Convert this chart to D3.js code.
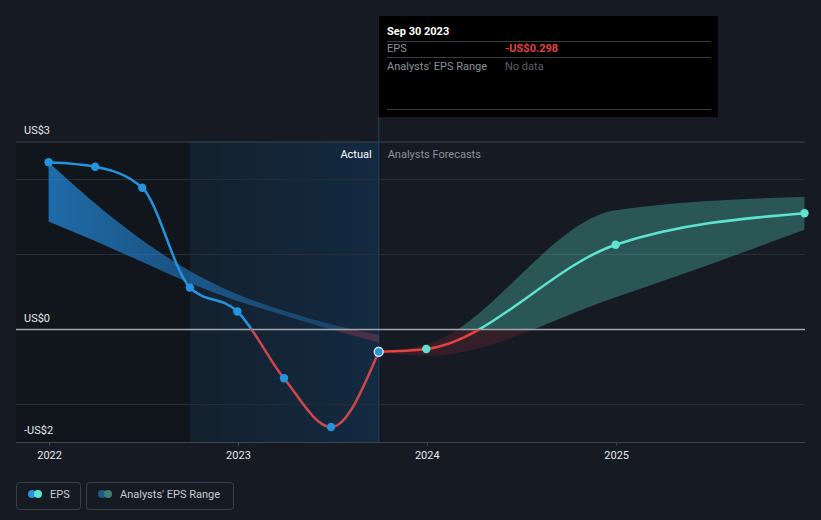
<!DOCTYPE html>
<html>
<head>
<meta charset="utf-8">
<script src="https://cdn.jsdelivr.net/npm/d3@7"></script>
<style>
  html, body { margin: 0; padding: 0; background: #151a23; }
  svg { display: block; font-family: Roboto, "Noto Sans", sans-serif; }
</style>
</head>
<body>
<svg id="chart" width="821" height="520"></svg>
<script>
// ---- data ----
const pastDates = ["2021-12-31","2022-03-31","2022-06-30","2022-09-30","2022-12-31","2023-03-31","2023-06-30","2023-09-30"];
const pastEPS   = [2.23, 2.17, 1.89, 0.56, 0.24, -0.65, -1.30, -0.298];
const pastRangeHigh = [2.23, 1.68, 1.19, 0.78, 0.47, 0.25, 0.07, -0.07];
const pastRangeLow  = [1.44, 1.18, 0.90, 0.62, 0.38, 0.19, 0.00, -0.17];

const fcDates = ["2023-09-30","2023-12-31","2024-12-31","2025-12-31"];
const fcEPS   = [-0.298, -0.26, 1.13, 1.55];
const fcHigh  = [-0.298, -0.20, 1.59, 1.77];
const fcLow   = [-0.298, -0.35, 0.43, 1.33];

const yearTicks = ["2022","2023","2024","2025"];
const yLabels = [{v: 2.5, t: "US$3"}, {v: 0, t: "US$0"}, {v: -1.5, t: "-US$2"}];
const gridValues = [2, 1, -1];

const tooltipDate = "Sep 30 2023";
const tooltipEPS = "-US$0.298";
const tooltipRange = "No data";

// ---- setup ----
const parse = d3.timeParse("%Y-%m-%d");
const svg = d3.select("#chart");
const W = 821, H = 520;
const pL = 16, pR = 805, pT = 142, pB = 442;

const x = d3.scaleTime().domain([new Date(2021, 9, 29), new Date(2026, 0, 1)]).range([pL, pR]);
const y = d3.scaleLinear().domain([-1.5, 2.5]).range([pB, pT]);
const y0 = y(0);

const past = pastDates.map((d, i) => ({date: parse(d), v: pastEPS[i], hi: pastRangeHigh[i], lo: pastRangeLow[i]}));
const fc = fcDates.map((d, i) => ({date: parse(d), v: fcEPS[i], hi: fcHigh[i], lo: fcLow[i]}));

const defs = svg.append("defs");
defs.append("clipPath").attr("id", "above").append("rect")
  .attr("x", 0).attr("y", 0).attr("width", W).attr("height", y0);
defs.append("clipPath").attr("id", "below").append("rect")
  .attr("x", 0).attr("y", y0).attr("width", W).attr("height", H - y0);

const hl = defs.append("linearGradient").attr("id", "hl").attr("x1", 0).attr("x2", 1).attr("y1", 0).attr("y2", 0);
hl.append("stop").attr("offset", 0).attr("stop-color", "#14202d");
hl.append("stop").attr("offset", 1).attr("stop-color", "#132a42");

const bandGrad = defs.append("linearGradient").attr("id", "bandGrad").attr("gradientUnits", "userSpaceOnUse")
  .attr("x1", x(past[0].date)).attr("x2", x(past[past.length - 1].date)).attr("y1", 0).attr("y2", 0);
bandGrad.append("stop").attr("offset", 0).attr("stop-color", "#2280cc").attr("stop-opacity", 0.8);
bandGrad.append("stop").attr("offset", 1).attr("stop-color", "#2280cc").attr("stop-opacity", 0.25);

const splitDate = parse("2022-09-30");
const nowDate = parse("2023-09-30");

// background regions
svg.append("rect").attr("x", pL).attr("y", pT).attr("width", x(splitDate) - pL).attr("height", pB - pT)
  .attr("fill", "#11151c");
svg.append("rect").attr("x", x(splitDate)).attr("y", pT).attr("width", x(nowDate) - x(splitDate)).attr("height", pB - pT)
  .attr("fill", "url(#hl)");

// gridlines
svg.append("g").selectAll("line").data(gridValues).join("line")
  .attr("x1", pL).attr("x2", pR).attr("y1", d => y(d)).attr("y2", d => y(d))
  .attr("stroke", "#262d37").attr("stroke-width", 1);
svg.append("line").attr("x1", pL).attr("x2", pR).attr("y1", y(2.5)).attr("y2", y(2.5))
  .attr("stroke", "#3b424d").attr("stroke-width", 1);

// tooltip vertical line
svg.append("line").attr("x1", x(nowDate)).attr("x2", x(nowDate)).attr("y1", 117).attr("y2", pB)
  .attr("stroke", "#1e3850").attr("stroke-width", 1.5);

// x axis
const xAxis = d3.axisBottom(x)
  .tickValues(yearTicks.map(t => parse(t + "-01-01")))
  .tickFormat(d3.timeFormat("%Y"))
  .tickSize(4).tickPadding(5);
const gx = svg.append("g").attr("transform", `translate(0,${pB})`).call(xAxis);
gx.select(".domain").attr("stroke", "#3e4450").attr("d", `M${pL},0.5H${pR}`);
gx.selectAll(".tick line").attr("stroke", "#3e4450");
gx.selectAll(".tick text").attr("fill", "#e6e8eb").attr("font-size", 11).attr("font-family", "Roboto, sans-serif");

// past analyst band
const band = d3.area().x(d => x(d.date)).y0(d => y(d.lo)).y1(d => y(d.hi)).curve(d3.curveMonotoneX);
svg.append("path").datum(past).attr("d", band).attr("fill", "url(#bandGrad)").attr("clip-path", "url(#above)");
svg.append("path").datum(past).attr("d", band).attr("fill", "#b0404f").attr("opacity", 0.35).attr("clip-path", "url(#below)");

// forecast band
svg.append("path").datum(fc).attr("d", band).attr("fill", "#5ce0cd").attr("opacity", 0.3).attr("clip-path", "url(#above)");
svg.append("path").datum(fc).attr("d", band).attr("fill", "#c23a45").attr("opacity", 0.18).attr("clip-path", "url(#below)");

// zero line
svg.append("line").attr("x1", pL).attr("x2", pR).attr("y1", y0).attr("y2", y0)
  .attr("stroke", "#a3a7ad").attr("stroke-width", 1.5);

// lines
const line = d3.line().x(d => x(d.date)).y(d => y(d.v)).curve(d3.curveMonotoneX);
svg.append("path").datum(past).attr("d", line).attr("fill", "none").attr("stroke", "#2394df").attr("stroke-width", 2.5).attr("clip-path", "url(#above)");
svg.append("path").datum(past).attr("d", line).attr("fill", "none").attr("stroke", "#d0474b").attr("stroke-width", 2.5).attr("clip-path", "url(#below)");
svg.append("path").datum(fc).attr("d", line).attr("fill", "none").attr("stroke", "#5de3cf").attr("stroke-width", 2.5).attr("clip-path", "url(#above)");
svg.append("path").datum(fc).attr("d", line).attr("fill", "none").attr("stroke", "#e5413f").attr("stroke-width", 2.5).attr("clip-path", "url(#below)");

// dots
svg.append("g").selectAll("circle").data(past.slice(0, -1)).join("circle")
  .attr("cx", d => x(d.date)).attr("cy", d => y(d.v)).attr("r", 4.2).attr("fill", "#2394df");
svg.append("g").selectAll("circle").data(fc.slice(1)).join("circle")
  .attr("cx", d => x(d.date)).attr("cy", d => y(d.v)).attr("r", 4.2).attr("fill", "#5de3cf");
const last = past[past.length - 1];
svg.append("circle").attr("cx", x(last.date)).attr("cy", y(last.v)).attr("r", 4.5)
  .attr("fill", "#2394df").attr("stroke", "#ffffff").attr("stroke-width", 1.2);

// y labels
svg.append("g").selectAll("text").data(yLabels).join("text")
  .attr("x", 24).attr("y", d => y(d.v) - 8).text(d => d.t)
  .attr("fill", "#e6e8eb").attr("font-size", 11);

// Actual / Forecast labels
svg.append("text").attr("x", x(nowDate) - 7).attr("y", 158).attr("text-anchor", "end")
  .attr("fill", "#ffffff").attr("font-size", 11).text("Actual");
svg.append("text").attr("x", x(nowDate) + 9).attr("y", 158)
  .attr("fill", "#8d9199").attr("font-size", 11).text("Analysts Forecasts");

// tooltip
const tt = svg.append("g");
tt.append("rect").attr("x", 379).attr("y", 16).attr("width", 339).attr("height", 101).attr("fill", "#000000");
tt.append("text").attr("x", 387).attr("y", 35).attr("fill", "#ffffff").attr("font-size", 11).attr("font-weight", "bold").text(tooltipDate);
[41.5, 57.5, 109.5].forEach(yy => tt.append("line").attr("x1", 387).attr("x2", 711).attr("y1", yy).attr("y2", yy).attr("stroke", "#3a3d42").attr("stroke-width", 1));
tt.append("text").attr("x", 387).attr("y", 52).attr("fill", "#8d9199").attr("font-size", 11).text("EPS");
tt.append("text").attr("x", 505).attr("y", 52).attr("fill", "#e5413f").attr("font-size", 11).attr("font-weight", "bold").text(tooltipEPS);
tt.append("text").attr("x", 387).attr("y", 70).attr("fill", "#8d9199").attr("font-size", 11).text("Analysts' EPS Range");
tt.append("text").attr("x", 505).attr("y", 70).attr("fill", "#5b5f66").attr("font-size", 11).text(tooltipRange);

// legend
const lg = svg.append("g");
lg.append("rect").attr("x", 16.5).attr("y", 482.5).attr("width", 64).attr("height", 27).attr("rx", 3)
  .attr("fill", "none").attr("stroke", "#3a404a");
lg.append("circle").attr("cx", 32).attr("cy", 494).attr("r", 4).attr("fill", "#2394df");
lg.append("circle").attr("cx", 38).attr("cy", 494).attr("r", 4).attr("fill", "#5de3cf");
lg.append("text").attr("x", 50).attr("y", 498).attr("fill", "#c9ccd1").attr("font-size", 11).text("EPS");
lg.append("rect").attr("x", 86.5).attr("y", 482.5).attr("width", 147).attr("height", 27).attr("rx", 3)
  .attr("fill", "none").attr("stroke", "#3a404a");
lg.append("circle").attr("cx", 102).attr("cy", 494).attr("r", 4).attr("fill", "#1d5a8a");
lg.append("circle").attr("cx", 108).attr("cy", 494).attr("r", 4).attr("fill", "#3e7f7a");
lg.append("text").attr("x", 120).attr("y", 498).attr("fill", "#c9ccd1").attr("font-size", 11).text("Analysts' EPS Range");
</script>
</body>
</html>
